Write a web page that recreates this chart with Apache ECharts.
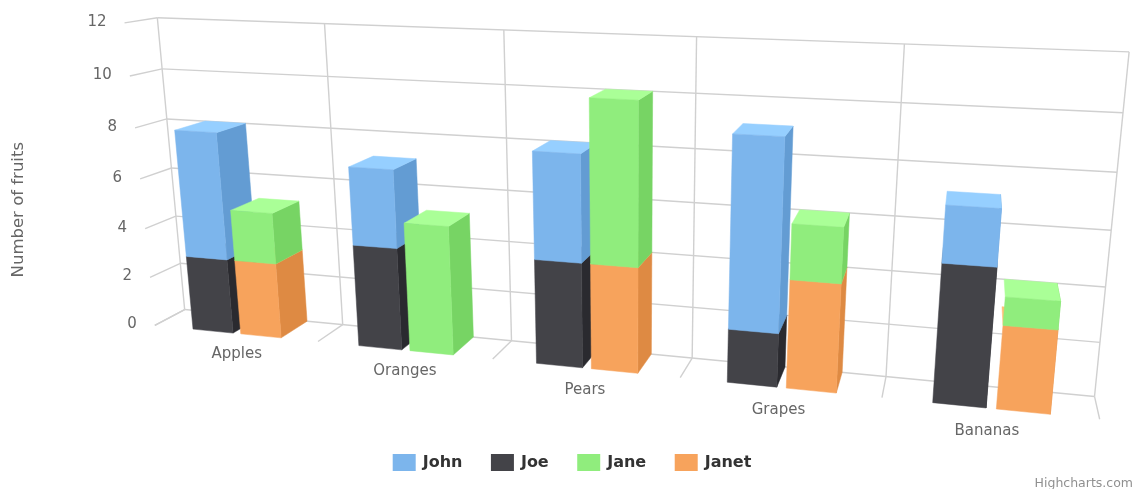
<!DOCTYPE html>
<html><head><meta charset="utf-8">
<style>html,body{margin:0;padding:0;background:#fff}#c{width:1137px;height:489px}</style>
<script src="https://cdn.jsdelivr.net/npm/echarts@6/dist/echarts.min.js"></script>
</head><body><div id="c"></div>
<script>
const categories = ['Apples','Oranges','Pears','Grapes','Bananas'];
const john  = [5,3,4,7,2];
const joe   = [3,4,4,2,5];
const jane  = [2,5,6,2,1];
const janet = [3,0,4,4,3];
const yTicks = [0,2,4,6,8,10,12];
const COLORS = {John:'#7cb5ec',Joe:'#434348',Jane:'#90ed7d',Janet:'#f7a35c'};
const FONT = '"DejaVu Sans", sans-serif';

// camera calibration: [category position, value, depth] -> screen pixel
const CAL = [
 [0,12,0,156.5,16],[1,12,0,324,23],[2,12,0,505,30],[3,12,0,697,37],[4,12,0,905,44],[5,12,0,1128,52],
 [0,0,0,187,308],[1,0,0,342,324],[2,0,0,509,341],[3,0,0,692,358],[4,0,0,886,377],[5,0,0,1096,397],
 [0,0,1,155,326],[1,0,1,317,343],[2,0,1,492,359],[3,0,1,681,378],[4,0,1,883,397],[5,0,1,1099,417],
 [0,12,1,125,22.7],[0,10,0,162,69],[5,10,0,1122.7,113],[0,8,0,167,121],[5,8,0,1117,173]
];
function fitCamera(pts){
  const n=11, A=Array.from({length:n},()=>new Array(n+1).fill(0));
  const add=(r,t)=>{for(let i=0;i<n;i++){for(let j=0;j<n;j++)A[i][j]+=r[i]*r[j];A[i][n]+=r[i]*t;}};
  pts.forEach(([X,Y,Z,u,v])=>{
    add([X,Y,Z,1,0,0,0,0,-u*X,-u*Y,-u*Z],u);
    add([0,0,0,0,X,Y,Z,1,-v*X,-v*Y,-v*Z],v);
  });
  for(let c=0;c<n;c++){
    let p=c;for(let r=c+1;r<n;r++)if(Math.abs(A[r][c])>Math.abs(A[p][c]))p=r;
    [A[c],A[p]]=[A[p],A[c]];
    for(let r=0;r<n;r++){if(r===c)continue;const f=A[r][c]/A[c][c];for(let k=c;k<=n;k++)A[r][k]-=f*A[c][k];}
  }
  return A.map((row,i)=>row[n]/row[i]);
}
const M = fitCamera(CAL);
function project(X,Y,Z){
  const w=M[8]*X+M[9]*Y+M[10]*Z+1;
  return [(M[0]*X+M[1]*Y+M[2]*Z+M[3])/w,(M[4]*X+M[5]*Y+M[6]*Z+M[7])/w];
}
// axis scale -> world position (categories on X, values on Y), via the grid's own scales
function world(params,api,cat,frac,val){
  const cs=params.coordSys, p=api.coord([cat,val]), band=api.size([1,0])[0];
  return [(p[0]+frac*band-cs.x)/band, (cs.y+cs.height-p[1])/cs.height*yTicks[yTicks.length-1]];
}
function proj(params,api,cat,frac,val,z){const w=world(params,api,cat,frac,val);return project(w[0],w[1],z);}
function brighten(hex,a){
  const n=parseInt(hex.slice(1),16),f=c=>Math.max(0,Math.min(255,Math.round(c+255*a)));
  return 'rgb('+f(n>>16)+','+f((n>>8)&255)+','+f(n&255)+')';
}
const poly=(points,fill)=>({type:'polygon',shape:{points},style:{fill,stroke:fill,lineWidth:0.5}});
const line=(a,b)=>({type:'line',shape:{x1:a[0],y1:a[1],x2:b[0],y2:b[1]},style:{stroke:'#d0d0d0',lineWidth:1.4,fill:null}});
const text=(s,x,y,align,opt)=>({type:'text',style:Object.assign({text:s,x,y,align,verticalAlign:'middle',fill:'#666666',font:'15px '+FONT},opt||{})});

function barItem(name,frac){
  return function(params,api){
    const i=api.value(0),v=api.value(1),b=api.value(2);
    if(!v) return {type:'group',children:[]};
    const x0=frac[0],x1=frac[1],P=(x,y,z)=>proj(params,api,i,x,y,z),c=COLORS[name];
    const side=brighten(c,-0.1),top=brighten(c,0.1),t=b+v;
    return {type:'group',children:[
      poly([P(x1,b,1),P(x1,t,1),P(x1,t,0),P(x1,b,0)],side),
      poly([P(x0,t,1),P(x0,t,0),P(x1,t,0),P(x1,t,1)],top),
      poly([P(x0,b,1),P(x0,t,1),P(x1,t,1),P(x1,b,1)],c)
    ]};
  };
}
const STACK_A=[-0.26,-0.012], STACK_B=[0.035,0.28];
function barSeries(name,vals,base,frac,z){
  return {name,type:'custom',coordinateSystem:'cartesian2d',clip:false,z,silent:true,
    itemStyle:{color:COLORS[name]},
    encode:{x:0,y:1},
    data:vals.map((v,i)=>[i,v,base?base[i]:0]),
    renderItem:barItem(name,frac)};
}
const frameYs={type:'custom',coordinateSystem:'cartesian2d',clip:false,z:1,silent:true,
  encode:{x:0,y:1},data:yTicks.map(t=>[0,t]),
  renderItem(params,api){
    const t=api.value(1),P=(c,f,z)=>proj(params,api,c,f,t,z);
    const a=P(0,-0.5,1),b=P(0,-0.5,0),e=P(categories.length-1,0.5,0);
    return {type:'group',children:[line(a,b),line(b,e),text(String(t),a[0]-18,a[1]-1,'right')]};
  }};
const frameXs={type:'custom',coordinateSystem:'cartesian2d',clip:false,z:1,silent:true,
  encode:{x:0,y:1},data:categories.concat(['']).map((_,i)=>[Math.min(i,categories.length-1),0,i]),
  renderItem(params,api){
    const k=api.value(2),c=api.value(0),f=k>c?0.5:-0.5,top=yTicks[yTicks.length-1];
    const P=(y,z)=>proj(params,api,c,f,y,z);
    return {type:'group',children:[line(P(top,0),P(0,0)),line(P(0,0),P(0,1))]};
  }};
const catLabels={type:'custom',coordinateSystem:'cartesian2d',clip:false,z:9,silent:true,
  encode:{x:0,y:1},data:categories.map((_,i)=>[i,0]),
  renderItem(params,api){
    const c=api.value(0),p=proj(params,api,c,0,-0.85,1);
    return text(categories[c],p[0],p[1],'center');
  }};

const chart=echarts.init(document.getElementById('c'),null,{renderer:'canvas'});
chart.setOption({
  animation:false,
  backgroundColor:'#ffffff',
  grid:{left:100,right:100,top:30,bottom:100},
  xAxis:{type:'category',data:categories,show:false},
  yAxis:{type:'value',min:0,max:12,interval:2,show:false},
  legend:{data:['John','Joe','Jane','Janet'],left:392.7,top:454,padding:0,itemWidth:23,itemHeight:17,itemGap:28.5,icon:'rect',
    selectedMode:false,textStyle:{fontFamily:FONT,fontWeight:'bold',fontSize:16,color:'#333333',padding:[0,0,0,2]}},
  graphic:[
    {type:'text',left:10,top:142,rotation:Math.PI/2,style:{text:'Number of fruits',fill:'#666666',font:'16.5px '+FONT},silent:true},
    {type:'text',right:4,top:477,style:{text:'Highcharts.com',fill:'#909090',font:'12.5px '+FONT},silent:true}
  ],
  series:[
    barSeries('John',john,joe,STACK_A,4),
    barSeries('Joe',joe,null,STACK_A,3),
    barSeries('Jane',jane,janet,STACK_B,6),
    barSeries('Janet',janet,null,STACK_B,5),
    frameYs,frameXs,catLabels
  ]
});
</script></body></html>
